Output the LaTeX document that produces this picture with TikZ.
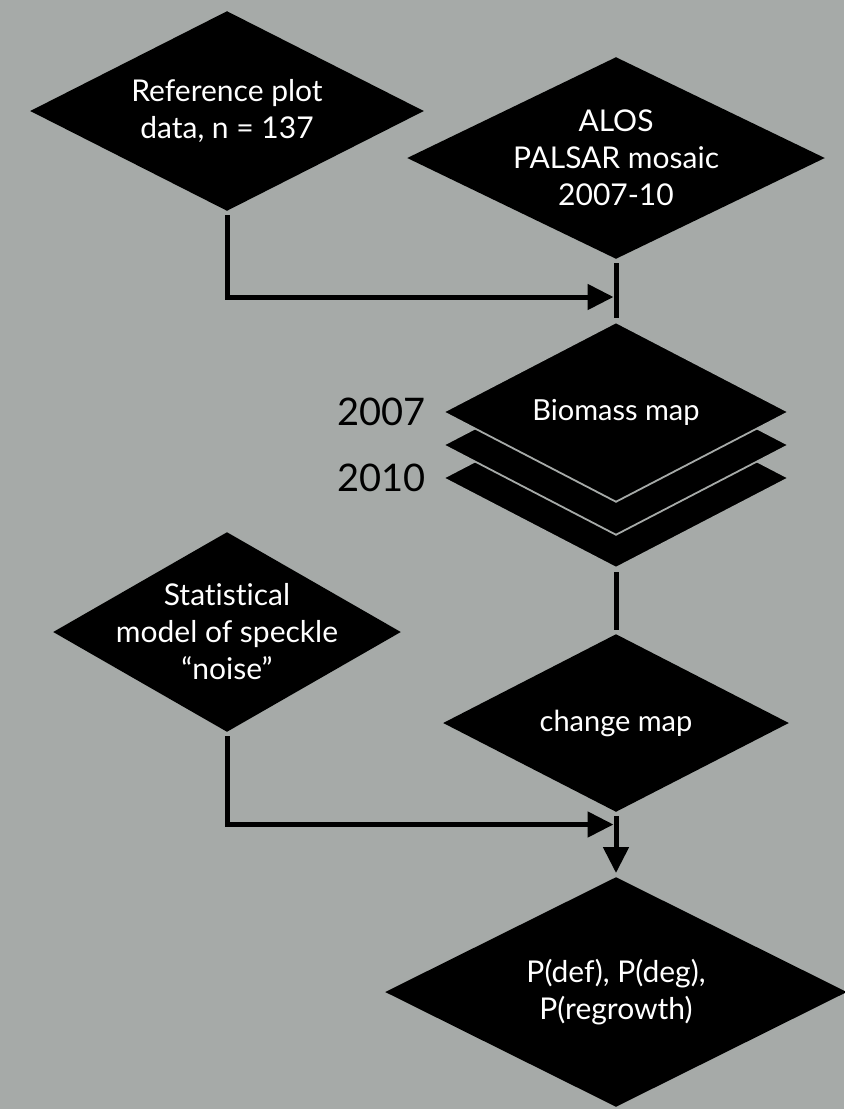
\documentclass[tikz,border=0pt]{standalone}
\usepackage{fontspec}
\setmainfont{Lato}[Ligatures={NoCommon}]
\usetikzlibrary{shapes.geometric,arrows.meta}
\definecolor{bg}{RGB}{166,170,168}
\begin{document}
\begin{tikzpicture}[x=1pt,y=-1pt,
  dia/.style={shape=diamond, fill=black, inner sep=0pt, outer sep=3pt},
  stackdia/.style={dia, draw=bg, line width=1.8pt, minimum width=348pt, minimum height=182pt},
  txt/.style={text=white, align=center, font=\fontsize{30}{37}\selectfont, inner sep=0pt},
  txtsm/.style={txt, font=\fontsize{29}{37}\selectfont},
  conn/.style={line width=5pt, draw=black},
  tip/.style={-{Triangle[length=26pt,width=25pt]}},
  yearlbl/.style={font=\fontsize{38}{46}\selectfont, inner sep=0pt, anchor=east}]

\fill[bg] (0,0) rectangle (844,1109);
\useasboundingbox (0,0) rectangle (844,1109);

% diamonds
\node[dia, minimum width=396pt, minimum height=202pt,
  label={[txt]center:{Reference plot\\data, n = 137}}] (ref) at (227,111) {};
\node[dia, minimum width=420pt, minimum height=204pt,
  label={[txt]center:{ALOS\\PALSAR mosaic\\2007-10}}] (alos) at (616,158) {};

\node[stackdia] (bio3) at (616,478) {};
\node[stackdia] (bio2) at (616,445) {};
\node[stackdia, label={[txtsm]center:{Biomass map}}] (bio1) at (616,412) {};

\node[yearlbl] (y2007) at (426,412) {2007};
\node[yearlbl] (y2010) at (426,478) {2010};

\node[dia, minimum width=350pt, minimum height=202pt,
  label={[txt]center:{Statistical\\model of speckle\\“noise”}}] (stat) at (227,632) {};
\node[dia, minimum width=348pt, minimum height=180pt,
  label={[txtsm]center:{change map}}] (chg) at (616,723) {};
\node[dia, minimum width=464pt, minimum height=232pt,
  label={[txt]center:{P(def), P(deg),\\P(regrowth)}}] (pdef) at (616,992) {};

% connectors
\coordinate (j1) at (613.5,297);
\coordinate (j2) at (613.5,824.5);
\draw[conn, tip] (ref.south) |- (j1);
\draw[conn] (alos.south) -- (bio1.north);
\draw[conn] (bio3.south) -- (chg.north);
\draw[conn, tip] (stat.south) |- (j2);
\draw[conn, tip] (chg.south) -- (pdef.north);
\end{tikzpicture}
\end{document}
